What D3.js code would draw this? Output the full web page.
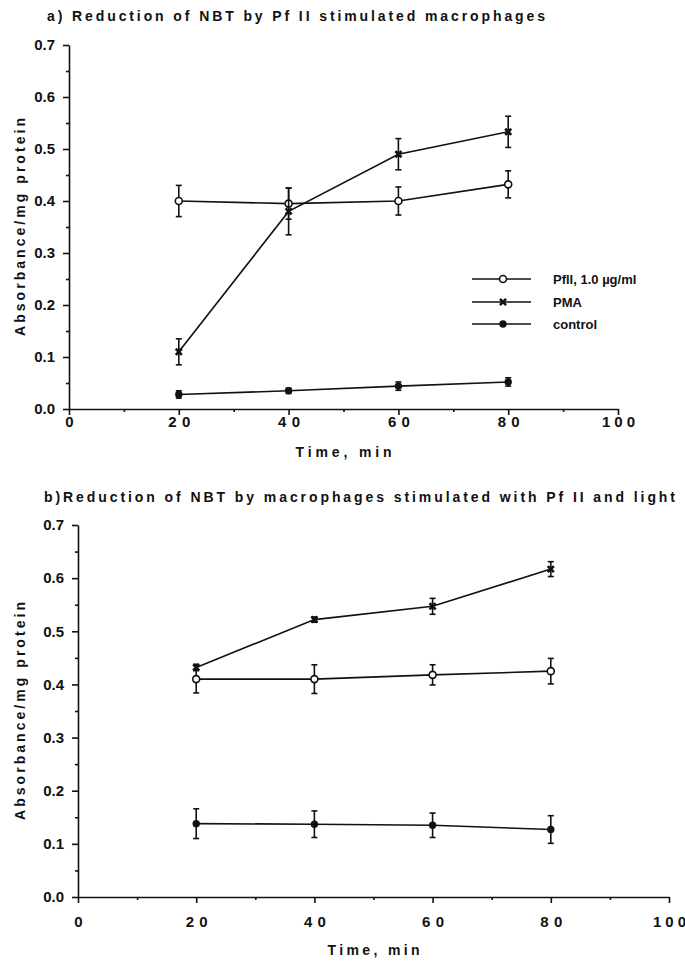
<!DOCTYPE html>
<html>
<head>
<meta charset="utf-8">
<script src="https://cdn.jsdelivr.net/npm/d3@7"></script>
<style>
  body { margin: 0; background: #fff; }
  svg text { font-family: "Liberation Sans", Arial, sans-serif; font-weight: bold; fill: #111; }
</style>
</head>
<body>
<svg id="chart" width="685" height="961"></svg>
<script>
// time points and axis ticks
var times = [20, 40, 60, 80];
var xTicks = [0, 20, 40, 60, 80, 100];
var yTicks = [0.0, 0.1, 0.2, 0.3, 0.4, 0.5, 0.6, 0.7];
var seriesNames = ["Pfll, 1.0 \u00b5g/ml", "PMA", "control"];

// panel a: Pf II stimulated macrophages
var pfA = [0.40, 0.395, 0.40, 0.432];
var pfAErr = [0.03, 0.03, 0.027, 0.026];
var pmaA = [0.11, 0.38, 0.49, 0.533];
var pmaAErr = [0.025, 0.045, 0.03, 0.03];
var ctlA = [0.028, 0.035, 0.044, 0.052];
var ctlAErr = [0.007, 0.005, 0.008, 0.008];

// panel b: Pf II and light
var pfB = [0.41, 0.41, 0.418, 0.425];
var pfBErr = [0.026, 0.027, 0.019, 0.024];
var pmaB = [0.432, 0.522, 0.547, 0.617];
var pmaBErr = [0.006, 0.005, 0.015, 0.014];
var ctlB = [0.138, 0.137, 0.135, 0.127];
var ctlBErr = [0.028, 0.025, 0.023, 0.026];

var svg = d3.select("#chart");

var panels = [
  {
    title: "a) Reduction of NBT by Pf II stimulated macrophages",
    titleX: 47, titleY: 21, titleW: 498,
    left: 69, right: 618, top: 45, bottom: 409,
    tickLabelY: 18, xLabelY: 457, xLabelW: 96,
    legend: true,
    series: [[pfA, pfAErr], [pmaA, pmaAErr], [ctlA, ctlAErr]]
  },
  {
    title: "b)Reduction of NBT by macrophages stimulated with Pf II and light",
    titleX: 44, titleY: 502, titleW: 631,
    left: 78, right: 669, top: 525, bottom: 897,
    tickLabelY: 30, xLabelY: 955, xLabelW: 92,
    legend: false,
    series: [[pfB, pfBErr], [pmaB, pmaBErr], [ctlB, ctlBErr]]
  }
];

function drawMarker(g, type, x, y) {
  if (type === 0) {
    // open circle
    g.append("circle").attr("cx", x).attr("cy", y).attr("r", 3.5)
      .attr("fill", "#fff").attr("stroke", "#111").attr("stroke-width", 1.6);
  } else if (type === 1) {
    // heavy x
    g.append("path").attr("d", d3.symbol(d3.symbolX, 26)())
      .attr("transform", "translate(" + x + "," + y + ")")
      .attr("fill", "none").attr("stroke", "#111").attr("stroke-width", 2.6);
  } else {
    // filled circle
    g.append("circle").attr("cx", x).attr("cy", y).attr("r", 3.7).attr("fill", "#111");
  }
}

panels.forEach(function (p) {
  var x = d3.scaleLinear().domain([0, 100]).range([p.left, p.right]);
  var y = d3.scaleLinear().domain([0, 0.7]).range([p.bottom, p.top]);
  var g = svg.append("g");

  // title
  g.append("text")
    .attr("x", p.titleX).attr("y", p.titleY)
    .attr("font-size", 14)
    .attr("textLength", p.titleW).attr("lengthAdjust", "spacing")
    .text(p.title);

  // y axis with minor ticks
  g.append("g")
    .attr("transform", "translate(" + p.left + ",0)")
    .call(d3.axisLeft(y).tickValues(d3.range(0.05, 0.7, 0.1)).tickSize(3).tickFormat(""))
    .call(function (a) { a.select(".domain").remove(); });
  var yAxis = g.append("g")
    .attr("transform", "translate(" + p.left + ",0)")
    .call(d3.axisLeft(y).tickValues(yTicks).tickSize(6).tickSizeOuter(0).tickPadding(8)
      .tickFormat(d3.format(".1f")));
  yAxis.selectAll("text").attr("font-size", 15);

  // x axis with minor ticks
  g.append("g")
    .attr("transform", "translate(0," + p.bottom + ")")
    .call(d3.axisBottom(x).tickValues(d3.range(10, 100, 20)).tickSize(3).tickFormat(""))
    .call(function (a) { a.select(".domain").remove(); });
  var xAxis = g.append("g")
    .attr("transform", "translate(0," + p.bottom + ")")
    .call(d3.axisBottom(x).tickValues(xTicks).tickSize(6).tickSizeOuter(0));
  xAxis.selectAll("text")
    .attr("font-size", 15)
    .attr("y", p.tickLabelY).attr("dy", 0)
    .each(function (d) {
      var s = String(d);
      if (s.length > 1) d3.select(this).attr("textLength", s.length * 11).attr("lengthAdjust", "spacing");
    });
  g.selectAll(".domain, .tick line").attr("stroke", "#111").attr("stroke-width", 1.6);

  // axis titles
  g.append("text")
    .attr("x", (p.left + p.right) / 2).attr("y", p.xLabelY)
    .attr("text-anchor", "middle").attr("font-size", 14)
    .attr("textLength", p.xLabelW).attr("lengthAdjust", "spacing")
    .text("Time,  min");
  g.append("text")
    .attr("transform", "translate(25," + ((p.top + p.bottom) / 2) + ") rotate(-90)")
    .attr("text-anchor", "middle").attr("font-size", 14)
    .attr("textLength", 218).attr("lengthAdjust", "spacing")
    .text("Absorbance/mg  protein");

  // series lines, error bars, markers
  var line = d3.line().x(function (d) { return x(d[0]); }).y(function (d) { return y(d[1]); });
  p.series.forEach(function (s, si) {
    var vals = s[0], errs = s[1];
    var pts = times.map(function (t, i) { return [t, vals[i]]; });
    g.append("path").attr("d", line(pts))
      .attr("fill", "none").attr("stroke", "#111").attr("stroke-width", 1.6);
    times.forEach(function (t, i) {
      var cx = x(t), y0 = y(vals[i] - errs[i]), y1 = y(vals[i] + errs[i]);
      var eb = g.append("g").attr("stroke", "#111").attr("stroke-width", 1.6);
      eb.append("line").attr("x1", cx).attr("x2", cx).attr("y1", y0).attr("y2", y1);
      eb.append("line").attr("x1", cx - 3).attr("x2", cx + 3).attr("y1", y0).attr("y2", y0);
      eb.append("line").attr("x1", cx - 3).attr("x2", cx + 3).attr("y1", y1).attr("y2", y1);
    });
    times.forEach(function (t, i) { drawMarker(g, si, x(t), y(vals[i])); });
  });

  // legend
  if (p.legend) {
    var rowY = [279, 302, 324];
    seriesNames.forEach(function (name, i) {
      g.append("line").attr("x1", 472).attr("x2", 531).attr("y1", rowY[i]).attr("y2", rowY[i])
        .attr("stroke", "#111").attr("stroke-width", 1.6);
      drawMarker(g, i, 503, rowY[i]);
      g.append("text").attr("x", 553).attr("y", rowY[i] + 4.5)
        .attr("font-size", 13).text(name);
    });
  }
});
</script>
</body>
</html>
